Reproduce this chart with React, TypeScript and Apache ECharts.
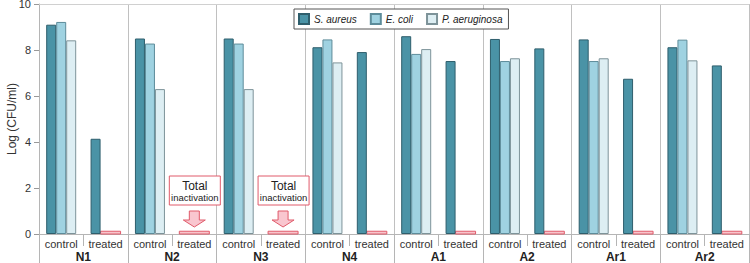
import React, { useEffect, useRef } from "react";
import * as echarts from "echarts";

const groups = ["N1", "N2", "N3", "N4", "A1", "A2", "Ar1", "Ar2"];
const conditions = ["control", "treated"];
const seriesNames = ["S. aureus", "E. coli", "P. aeruginosa"];
// 16 entries: control/treated for each group; 0 = total inactivation
const sAureus = [9.1, 4.14, 8.5, 0, 8.5, 0, 8.12, 7.91, 8.6, 7.52, 8.48, 8.07, 8.46, 6.75, 8.12, 7.33];
const eColi = [9.22, 0, 8.28, 0, 8.28, 0, 8.46, 0, 7.83, 0, 7.52, 0, 7.52, 0, 8.45, 0];
const pAeruginosa = [8.42, 0, 6.3, 0, 6.3, 0, 7.46, 0, 8.04, 0, 7.64, 0, 7.64, 0, 7.55, 0];
const yTicks = [0, 2, 4, 6, 8, 10];
const zeroMarkerValue = 0.12;
const annotationText = ["Total", "inactivation"];

const FONT = "'Liberation Sans', Arial, sans-serif";

export default function App() {
  const ref = useRef<HTMLDivElement>(null);
  useEffect(() => {
    if (!ref.current) return;
    const chart = echarts.init(ref.current, null, { renderer: "svg" });
    const cats = groups.flatMap(() => conditions);
    const all = [sAureus, eColi, pAeruginosa];
    const fills = ["#4a93a6", "#9fd2e1", "#ddeef3"];
    const borders = ["#2e5e6c", "#5d8c9a", "#7d9399"];
    const BAR_W = 10;

    const zeroData: number[][] = [];
    const annData: number[][] = [];
    cats.forEach((_, i) => {
      const first = all.findIndex((arr) => arr[i] === 0);
      if (first >= 0) {
        zeroData.push([i, first, zeroMarkerValue]);
        if (first === 0) annData.push([i, 0]);
      }
    });

    const barSeries = all.map((arr, k) => ({
      name: seriesNames[k],
      type: "bar",
      xAxisIndex: 0,
      barWidth: BAR_W,
      barGap: "0%",
      data: arr.map((v) => (v === 0 ? "-" : v)),
      itemStyle: { color: fills[k], borderColor: borders[k], borderWidth: 1 },
    }));

    const option: any = {
      animation: false,
      textStyle: { fontFamily: FONT },
      grid: { left: 39, right: 1, top: 4, bottom: 29, containLabel: false, outerBoundsMode: "none" },
      legend: {
        data: seriesNames,
        icon: "rect",
        left: 294,
        top: 9,
        padding: [4, 6, 4, 4],
        itemGap: 13,
        itemWidth: 10,
        itemHeight: 10,
        borderColor: "#555",
        borderWidth: 1,
        backgroundColor: "#fff",
        textStyle: { fontFamily: FONT, fontStyle: "italic", fontSize: 10, color: "#222", lineHeight: 12 },
      },
      xAxis: [
        {
          type: "category",
          data: cats,
          position: "bottom",
          axisLine: { show: true, lineStyle: { color: "#b5b5b5" } },
          axisTick: { show: true, length: 12, lineStyle: { color: "#b5b5b5" } },
          axisLabel: { margin: 4, fontSize: 11, color: "#333", fontFamily: FONT, interval: 0 },
          splitLine: { show: false },
        },
        {
          type: "category",
          data: groups,
          position: "bottom",
          axisLine: { show: false },
          axisTick: { show: true, length: 29, lineStyle: { color: "#b5b5b5" } },
          axisLabel: { margin: 17, fontSize: 12, fontWeight: "bold", color: "#222", fontFamily: FONT },
          splitLine: { show: true, lineStyle: { color: "#c0c0c0" } },
        },
        {
          type: "category",
          data: groups,
          position: "top",
          axisLine: { show: true, lineStyle: { color: "#d0d0d0" } },
          axisTick: { show: false },
          axisLabel: { show: false },
        },
      ],
      yAxis: {
        type: "value",
        min: yTicks[0],
        max: yTicks[yTicks.length - 1],
        interval: 2,
        name: "Log (CFU/ml)",
        nameLocation: "middle",
        nameGap: 21,
        nameMoveOverlap: false,
        nameTextStyle: { fontSize: 12, color: "#333", fontFamily: FONT },
        axisLine: { show: true, lineStyle: { color: "#b5b5b5" } },
        axisTick: { show: true, length: 5, lineStyle: { color: "#999" } },
        axisLabel: { margin: 8, fontSize: 11, color: "#333", fontFamily: FONT },
        splitLine: { show: false },
      },
      series: [
        ...barSeries,
        {
          type: "custom",
          name: "zero",
          xAxisIndex: 0,
          data: zeroData,
          encode: { x: 0, y: 2 },
          renderItem: (params: any, api: any) => {
            const idx = api.value(0);
            const start = api.value(1);
            const v = api.value(2);
            const base = api.coord([idx, 0]);
            const top = api.coord([idx, v]);
            const left = base[0] - 1.5 * BAR_W + start * BAR_W;
            return {
              type: "rect",
              shape: { x: left, y: top[1], width: (3 - start) * BAR_W, height: base[1] - top[1] },
              style: { fill: "#f7c5cc", stroke: "#e05a6a", lineWidth: 1 },
            };
          },
        },
        {
          type: "custom",
          name: "annotation",
          xAxisIndex: 0,
          data: annData,
          encode: { x: 0, y: 1 },
          renderItem: (params: any, api: any) => {
            const idx = api.value(0);
            const base = api.coord([idx, 0]);
            const cx = base[0];
            const by = base[1];
            return {
              type: "group",
              children: [
                {
                  type: "rect",
                  shape: { x: cx - 25, y: by - 58, width: 51, height: 29 },
                  style: { fill: "#fff", stroke: "#e05a6a", lineWidth: 1 },
                },
                {
                  type: "text",
                  style: {
                    x: cx + 0.5, y: by - 48, text: annotationText[0], align: "center", verticalAlign: "middle",
                    fontSize: 12, fill: "#222", fontFamily: FONT,
                  },
                },
                {
                  type: "text",
                  style: {
                    x: cx + 0.5, y: by - 37, text: annotationText[1], align: "center", verticalAlign: "middle",
                    fontSize: 9.5, fill: "#222", fontFamily: FONT,
                  },
                },
                {
                  type: "polygon",
                  shape: {
                    points: [
                      [cx - 5, by - 23], [cx + 5, by - 23], [cx + 5, by - 14], [cx + 11, by - 14],
                      [cx, by - 7], [cx - 11, by - 14], [cx - 5, by - 14],
                    ],
                  },
                  style: { fill: "#f9c6cf", stroke: "#e05a6a", lineWidth: 1 },
                },
              ],
            };
          },
        },
      ],
    };
    chart.setOption(option);
    return () => chart.dispose();
  }, []);
  return <div ref={ref} style={{ position: "fixed", left: 0, top: 0, width: 750, height: 263, background: "#fff" }} />;
}
